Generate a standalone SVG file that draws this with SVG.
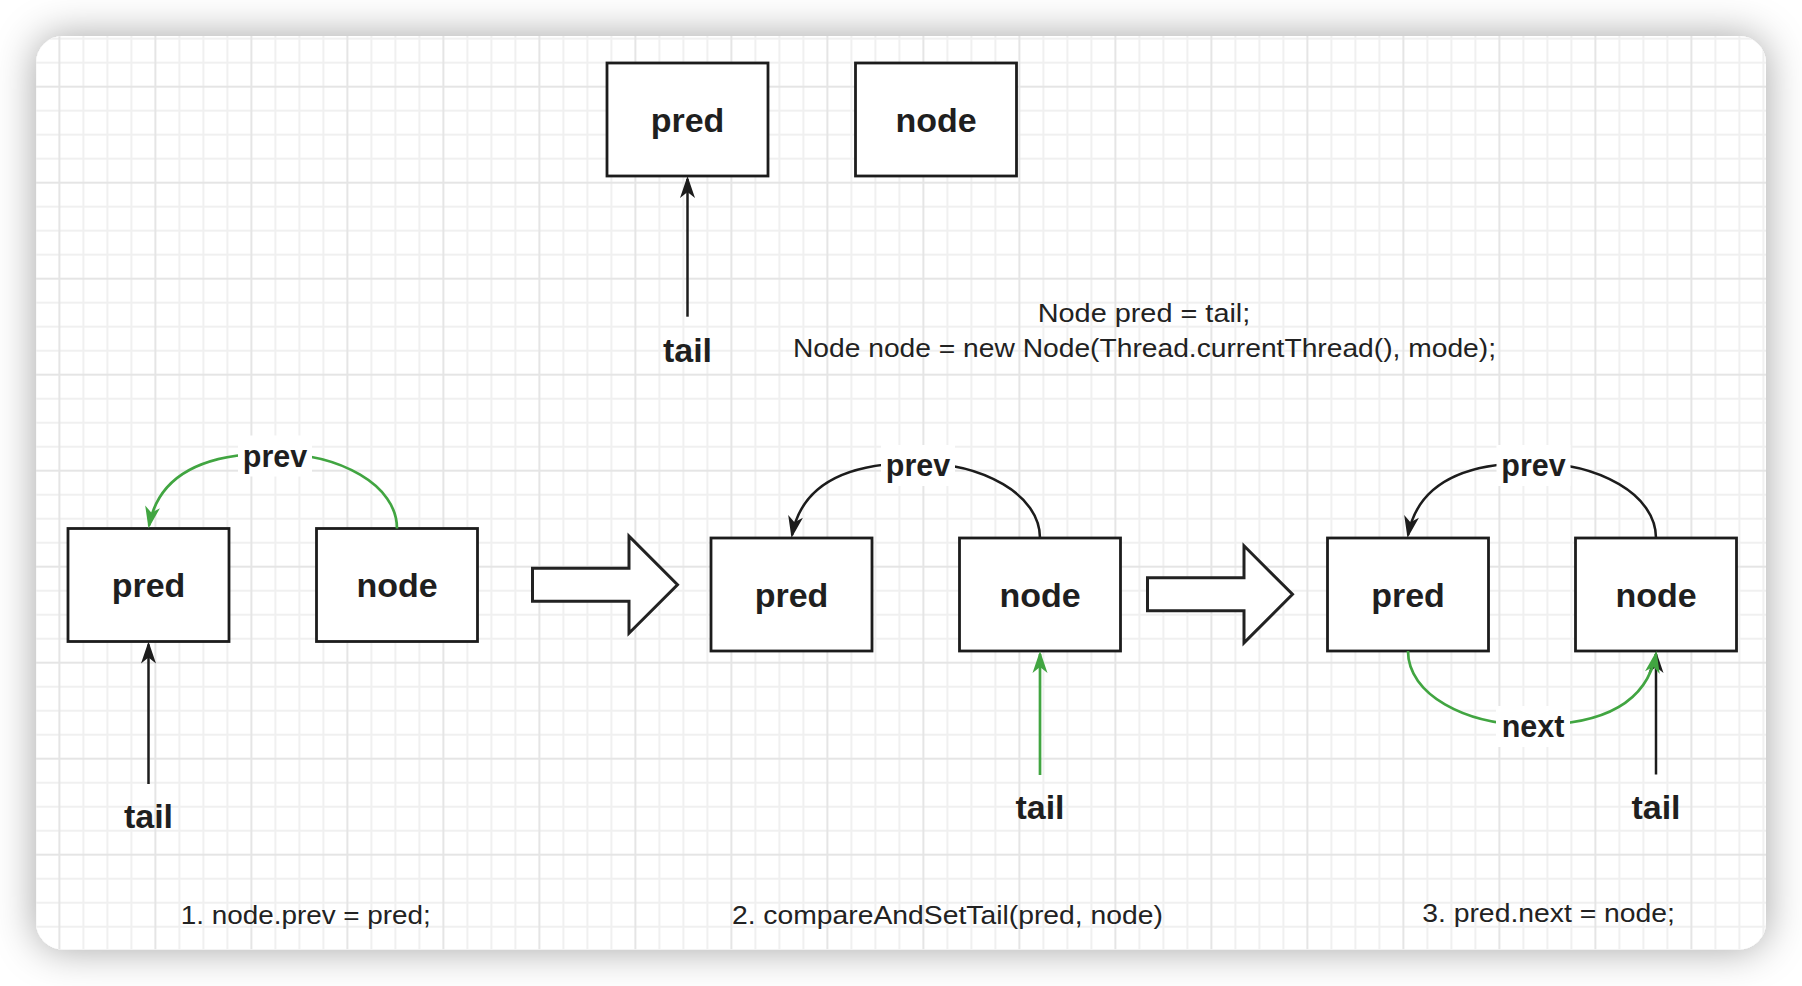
<svg xmlns="http://www.w3.org/2000/svg" width="1802" height="986" viewBox="0 0 1802 986">
<defs>
<style>
.box{fill:#fff;stroke:#1c1c1c;stroke-width:2.8}
.lbl{font-family:"Liberation Sans",Arial,sans-serif;font-weight:bold;font-size:34px;fill:#1f1f1f;text-anchor:middle}
.elbl{font-family:"Liberation Sans",Arial,sans-serif;font-weight:bold;font-size:30.5px;fill:#1f1f1f;text-anchor:middle}
.code{font-family:"Liberation Sans",Arial,sans-serif;font-size:26px;fill:#222;text-anchor:middle}
.blk{fill:none;stroke:#1c1c1c;stroke-width:2.5}
.grn{fill:none;stroke:#41a541;stroke-width:2.7}
.lblbg{fill:#fff}
.big{fill:#fff;stroke:#222;stroke-width:3;stroke-linejoin:miter}
</style>
<pattern id="grid" patternUnits="userSpaceOnUse" x="58.4" y="85.7" width="96" height="96">
<g stroke="#f0f0f0" stroke-width="2">
<line x1="25" y1="0" x2="25" y2="96"/><line x1="49" y1="0" x2="49" y2="96"/><line x1="73" y1="0" x2="73" y2="96"/>
<line x1="0" y1="25" x2="96" y2="25"/><line x1="0" y1="49" x2="96" y2="49"/><line x1="0" y1="73" x2="96" y2="73"/>
</g>
<g stroke="#e5e5e5" stroke-width="2">
<line x1="1" y1="0" x2="1" y2="96"/><line x1="0" y1="1" x2="96" y2="1"/>
</g>
</pattern>
<filter id="shadow" filterUnits="userSpaceOnUse" x="-60" y="-60" width="1922" height="1106">
<feDropShadow dx="0" dy="0" stdDeviation="20" flood-color="#000" flood-opacity="0.36"/>
</filter>
<clipPath id="cardClip"><rect x="36" y="36" width="1730" height="913.5" rx="27" ry="27"/></clipPath>
<marker id="ahB" viewBox="-20 -9 24 18" refX="0" refY="0" markerWidth="24" markerHeight="18" markerUnits="userSpaceOnUse" orient="auto">
<path d="M3,0 L-19,-7.5 L-13,0 L-19,7.5 Z" fill="#1c1c1c"/>
</marker>
<marker id="ahG" viewBox="-20 -9 24 18" refX="0" refY="0" markerWidth="24" markerHeight="18" markerUnits="userSpaceOnUse" orient="auto">
<path d="M3,0 L-19,-7.5 L-13,0 L-19,7.5 Z" fill="#41a541"/>
</marker>
</defs>

<rect x="0" y="0" width="1802" height="986" fill="#fff"/>
<g id="card">
<rect x="36" y="36" width="1730" height="913.5" rx="27" ry="27" fill="#fff" filter="url(#shadow)"/>
<rect x="36" y="36" width="1730" height="913.5" fill="url(#grid)" clip-path="url(#cardClip)"/>
</g>

<g id="top-pred"><rect class="box" x="607" y="63" width="161" height="113"/><text class="lbl" x="687.5" y="131.5">pred</text></g>
<g id="top-node"><rect class="box" x="855.5" y="63" width="161" height="113"/><text class="lbl" x="936" y="131.5">node</text></g>
<g id="top-tail"><text class="lbl" x="687.5" y="361.5">tail</text></g>
<g id="top-code">
<text class="code" x="1144" y="321.5" textLength="212.6" lengthAdjust="spacingAndGlyphs">Node pred = tail;</text>
<text class="code" x="1144.5" y="357.3" textLength="703" lengthAdjust="spacingAndGlyphs">Node node = new Node(Thread.currentThread(), mode);</text>
</g>

<g id="s1-pred"><rect class="box" x="68" y="528.5" width="161" height="113"/><text class="lbl" x="148.5" y="597">pred</text></g>
<g id="s1-node"><rect class="box" x="316.5" y="528.5" width="161" height="113"/><text class="lbl" x="397" y="597">node</text></g>
<g id="s1-tail"><text class="lbl" x="148.5" y="828">tail</text></g>
<g id="s1-caption"><text class="code" x="305.8" y="924" textLength="250" lengthAdjust="spacingAndGlyphs">1. node.prev = pred;</text></g>

<g id="arrow1"><path class="big" d="M532.5,568.2 L629,568.2 L629,536.2 L677.5,584.7 L629,633.2 L629,601.2 L532.5,601.2 Z"/></g>

<g id="s2-pred"><rect class="box" x="711" y="538" width="161" height="113"/><text class="lbl" x="791.5" y="606.5">pred</text></g>
<g id="s2-node"><rect class="box" x="959.5" y="538" width="161" height="113"/><text class="lbl" x="1040" y="606.5">node</text></g>
<g id="s2-tail"><text class="lbl" x="1040" y="818.7">tail</text></g>
<g id="s2-caption"><text class="code" x="947.4" y="924" textLength="431" lengthAdjust="spacingAndGlyphs">2. compareAndSetTail(pred, node)</text></g>

<g id="arrow2"><path class="big" d="M1147.5,577.8 L1244,577.8 L1244,545.8 L1292.5,594.3 L1244,642.8 L1244,610.8 L1147.5,610.8 Z"/></g>

<g id="s3-pred"><rect class="box" x="1327.5" y="538" width="161" height="113"/><text class="lbl" x="1408" y="606.5">pred</text></g>
<g id="s3-node"><rect class="box" x="1575.5" y="538" width="161" height="113"/><text class="lbl" x="1656" y="606.5">node</text></g>
<g id="s3-tail"><text class="lbl" x="1656" y="818.7">tail</text></g>
<g id="s3-caption"><text class="code" x="1548.6" y="921.5" textLength="252.8" lengthAdjust="spacingAndGlyphs">3. pred.next = node;</text></g>

<g id="connectors">
<path class="blk" d="M687.5,316.7 L687.5,179" marker-end="url(#ahB)"/>
<path class="blk" d="M148.5,784 L148.5,644.5" marker-end="url(#ahB)"/>
<path class="grn" d="M397,528.5 C397,485 340,453.5 272.75,453.5 C198,453.5 158,478 149.05,525.55" marker-end="url(#ahG)"/>
<rect class="lblbg" x="238" y="435.5" width="74" height="41"/>
<text class="elbl" x="275" y="466.5">prev</text>

<path class="grn" d="M1040,775 L1040,654" marker-end="url(#ahG)"/>
<path class="blk" d="M1040,538 C1040,494.5 983,463 915.75,463 C841,463 801,487.5 792.05,535.05" marker-end="url(#ahB)"/>
<rect class="lblbg" x="881" y="445" width="74" height="41"/>
<text class="elbl" x="918" y="476">prev</text>

<path class="blk" d="M1656,774.5 L1656,654" marker-end="url(#ahB)"/>
<path class="blk" d="M1656,538 C1656,494.5 1599,463 1531.75,463 C1457,463 1417,487.5 1408.05,535.05" marker-end="url(#ahB)"/>
<rect class="lblbg" x="1496.5" y="445" width="74" height="41"/>
<text class="elbl" x="1533.5" y="476">prev</text>
<path class="grn" d="M1408,651 C1408,694.5 1465,725 1532.25,725 C1607,725 1647,700.5 1655.95,653.95" marker-end="url(#ahG)"/>
<rect class="lblbg" x="1496" y="706" width="74" height="41"/>
<text class="elbl" x="1533" y="737">next</text>
</g>
</svg>
